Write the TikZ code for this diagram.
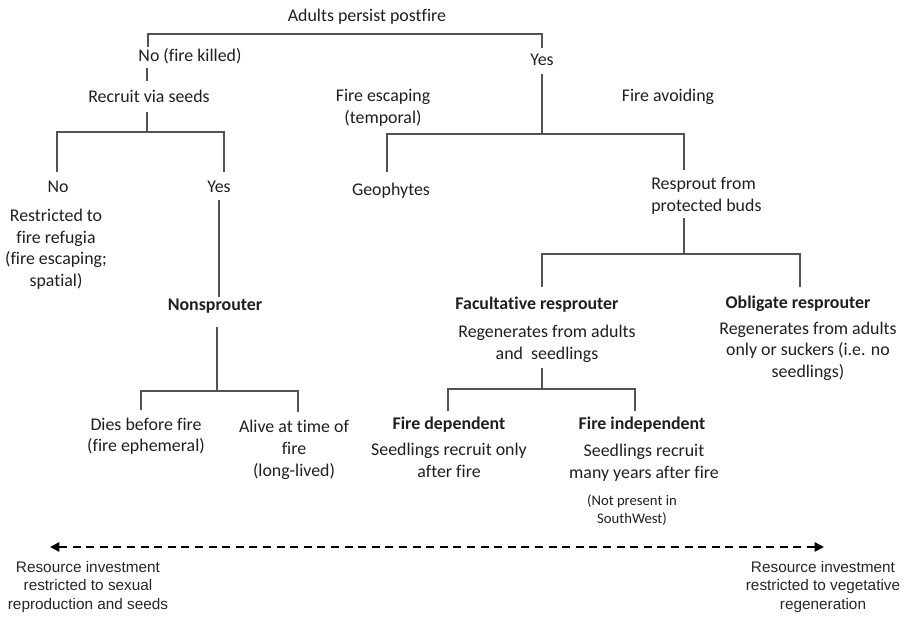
\documentclass[tikz,border=0pt]{standalone}
\usepackage{fontspec}
\setmainfont{Carlito}[Ligatures=NoCommon]
\newfontfamily\arialf{Liberation Sans}
\usetikzlibrary{arrows.meta}
\begin{document}
\begin{tikzpicture}[x=0.75pt,y=-0.75pt,
  txt/.style={inner sep=0pt,align=center,text=black!88,yshift=-1.2pt,font=\fontsize{13.4}{16.3}\selectfont},
  btxt/.style={txt,font=\fontsize{13.4}{16.3}\selectfont\bfseries},
  stxt/.style={txt,font=\fontsize{11}{13.5}\selectfont},
  atxt/.style={inner sep=0pt,align=center,text=black!85,font=\arialf\fontsize{11.5}{13.6}\selectfont},
  link/.style={draw=black!68,line width=0.9pt},
  axis/.style={draw=black,line width=1.2pt,dash pattern=on 6pt off 4.2pt,
    {Triangle[length=7pt,width=7pt]}-{Triangle[length=7pt,width=7pt]}}]
\useasboundingbox (0,0) rectangle (908,618);
% text nodes
\node[txt] (top) at (367,15) {Adults persist postfire};
\node[txt] (nofk) at (190,55) {No (fire killed)};
\node[txt] (yes) at (542,58) {Yes};
\node[txt] (recruit) at (149,95) {Recruit via seeds};
\node[txt] (fesc) at (383,106) {Fire escaping\\(temporal)};
\node[txt] (favoid) at (668,95) {Fire avoiding};
\node[txt] (no2) at (58,185) {No};
\node[txt] (yes2) at (219,185) {Yes};
\node[txt] (refugia) at (56,247.5) {Restricted to\\fire refugia\\(fire escaping;\\spatial)};
\node[txt] (geo) at (391,189) {Geophytes};
\node[txt,align=left,anchor=west] (resprout) at (651,194) {Resprout from\\protected buds};
\node[btxt] (nons) at (215,305) {Nonsprouter};
\node[btxt] (fac) at (537,303) {Facultative resprouter};
\node[btxt] (obl) at (798,302) {Obligate resprouter};
\node[txt] (facd) at (547,342) {Regenerates from adults\\and\ \ seedlings};
\node[txt] (obld) at (808,349.5) {Regenerates from adults\\only or suckers (i.e. no\\seedlings)};
\node[txt] (dies) at (146,434.5) {Dies before fire\\(fire ephemeral)};
\node[txt] (alive) at (294,448) {Alive at time of\\fire\\(long-lived)};
\node[btxt] (fdep) at (449,423) {Fire dependent};
\node[txt] (fdepd) at (449,459) {Seedlings recruit only\\after fire};
\node[btxt] (find) at (642,423) {Fire independent};
\node[txt] (findd) at (644,461) {Seedlings recruit\\many years after fire};
\node[stxt] (notp) at (632,508.5) {(Not present in\\SouthWest)};
\node[atxt] (lres) at (88,587) {Resource investment\\restricted to sexual\\reproduction and seeds};
\node[atxt] (rres) at (823,587) {Resource investment\\restricted to vegetative\\regeneration};
% connector end points
\coordinate (a1) at (148,47); \coordinate (a2) at (148,34);
\coordinate (a3) at (542,34); \coordinate (a4) at (542,48);
\coordinate (b1) at (147,68); \coordinate (b2) at (147,81);
\coordinate (c1) at (147,112); \coordinate (c2) at (147,132);
\coordinate (c3) at (57,172); \coordinate (c4) at (224,172);
\coordinate (d1) at (542,74); \coordinate (d2) at (542,134);
\coordinate (d3) at (387,172); \coordinate (d4) at (684,170);
\coordinate (e1) at (219,200); \coordinate (e2) at (219,297);
\coordinate (f1) at (684,218); \coordinate (f2) at (684,254);
\coordinate (f3) at (542,287); \coordinate (f4) at (800,287);
\coordinate (g1) at (217,327); \coordinate (g2) at (217,391);
\coordinate (g3) at (141,410); \coordinate (g4) at (298,412);
\coordinate (h1) at (542,368); \coordinate (h2) at (542,389);
\coordinate (h3) at (448,411); \coordinate (h4) at (635,411);
\coordinate (la) at (50,547); \coordinate (ra) at (824,547);
% connectors
\draw[link] (a1) -- (a2) -- (a3) -- (a4);
\draw[link] (b1) -- (b2);
\draw[link] (c1) -- (c2);
\draw[link] (c3) |- (c2) -| (c4);
\draw[link] (d1) -- (d2);
\draw[link] (d3) |- (d2) -| (d4);
\draw[link] (e1) -- (e2);
\draw[link] (f1) -- (f2);
\draw[link] (f3) |- (f2) -| (f4);
\draw[link] (g1) -- (g2);
\draw[link] (g3) |- (g2) -| (g4);
\draw[link] (h1) -- (h2);
\draw[link] (h3) |- (h2) -| (h4);
\draw[axis] (la) -- (ra);
\end{tikzpicture}
\end{document}
